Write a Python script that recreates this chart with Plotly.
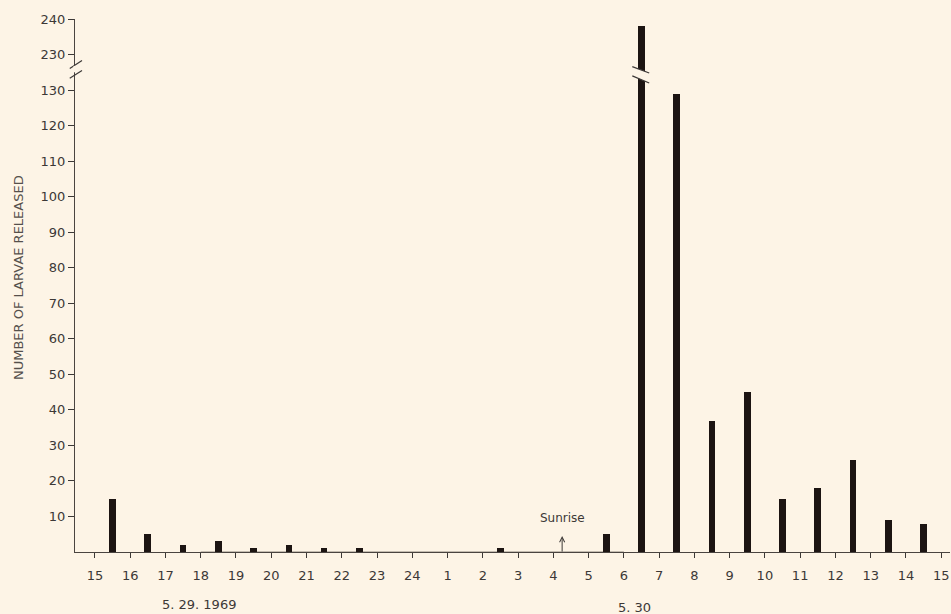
import plotly.graph_objects as go

# ---- data ----
hour_labels = ["15", "16", "17", "18", "19", "20", "21", "22", "23", "24",
               "1", "2", "3", "4", "5", "6", "7", "8", "9", "10",
               "11", "12", "13", "14", "15"]
# larvae released in each hourly interval (interval i spans hour_labels[i] -> hour_labels[i+1])
larvae = [15, 5, 2, 3, 1, 2, 1, 1, 0, 0, 0, 1, 0, 0, 5,
          238, 129, 37, 45, 15, 18, 26, 9, 8]
y_tick_values = [10, 20, 30, 40, 50, 60, 70, 80, 90, 100, 110, 120, 130, 230, 240]
zero_line_span = ["18", "6"]       # hours over which zero release was recorded as a line
sunrise_hour_index = 13.25          # about 4:15
date_labels = [("5. 29. 1969", 2.95, -0.098), ("5. 30", 15.3, -0.104)]

# ---- axis break: values above BREAK_LO are shifted down ----
BREAK_LO, BREAK_HI = 135, 225
SHIFT = 90
def disp(v):
    return v if v <= BREAK_LO else v - SHIFT

BG = "#fdf4e6"
INK = "#1c1412"
TXT = "#3c3836"
FONT = "DejaVu Sans"

x_centers = [i + 0.5 for i in range(len(larvae))]
y_disp = [disp(v) for v in larvae]

fig = go.Figure()
fig.add_trace(go.Bar(x=x_centers, y=y_disp, width=0.19, marker_color=INK,
                     marker_line_width=0, customdata=larvae,
                     hovertemplate="%{customdata}<extra></extra>"))

# thick zero-record line
i0 = hour_labels.index(zero_line_span[0])
i1 = hour_labels.index(zero_line_span[1])
fig.add_trace(go.Scatter(x=[i0, i1], y=[-0.35, -0.35], mode="lines",
                         line=dict(color=INK, width=3), hoverinfo="skip",
                         cliponaxis=False))

shapes = []
# break marks on the y axis
for yc in (137.2, 134.4):
    shapes.append(dict(type="line", xref="paper", yref="y",
                       x0=-0.006, x1=0.008, y0=yc - 1.1, y1=yc + 1.1,
                       line=dict(color=TXT, width=1.2), layer="above"))
shapes.append(dict(type="line", xref="paper", yref="y", x0=0, x1=0,
                   y0=135.0, y1=136.8, line=dict(color=BG, width=3), layer="above"))

# break marks across the tallest bar
bi = max(range(len(larvae)), key=lambda k: larvae[k])
bx = x_centers[bi]
xl, xr = bx - 0.26, bx + 0.22
shapes.append(dict(type="path", xref="x", yref="y",
                   path=f"M {xl},136.6 L {xr},134.8 L {xr},132.0 L {xl},134.0 Z",
                   fillcolor=BG, line=dict(width=0), layer="above"))
for (ya, yb) in ((136.6, 134.8), (134.0, 132.0)):
    shapes.append(dict(type="line", xref="x", yref="y", x0=xl, x1=xr, y0=ya, y1=yb,
                       line=dict(color=TXT, width=1.2), layer="above"))

annotations = [
    dict(text="NUMBER OF LARVAE RELEASED", xref="paper", yref="paper",
         x=-0.076, y=0.514, textangle=-90, showarrow=False,
         font=dict(family=FONT, size=13, color="#55504c")),
    dict(text="Sunrise", xref="x", yref="y", x=sunrise_hour_index, y=9.7,
         showarrow=False, font=dict(family=FONT, size=12, color=TXT)),
    dict(text="", xref="x", yref="y", x=sunrise_hour_index, y=4.5,
         ax=sunrise_hour_index, ay=-0.3, axref="x", ayref="y",
         showarrow=True, arrowhead=5, arrowsize=1.0, arrowwidth=1,
         arrowcolor=TXT),
]
for txt, xv, yv in date_labels:
    annotations.append(dict(text=txt, xref="x", yref="paper", x=xv, y=yv,
                            yanchor="middle", showarrow=False,
                            font=dict(family=FONT, size=13, color=TXT)))

tick_pos = [disp(v) for v in y_tick_values]

fig.update_layout(
    width=951, height=614,
    margin=dict(l=75, r=1, t=19, b=62, autoexpand=False),
    paper_bgcolor=BG, plot_bgcolor=BG,
    showlegend=False, bargap=0,
    shapes=shapes, annotations=annotations,
    font=dict(family=FONT, size=12, color=TXT),
    xaxis=dict(range=[-0.565, 24.25], tickmode="array",
               tickvals=list(range(len(hour_labels))), ticktext=hour_labels,
               ticks="outside", ticklen=5, tickcolor=TXT, tickwidth=1,
               ticklabelstandoff=6, ticklabeloverflow="allow", automargin=False,
               showline=True, linecolor="#4a4440", linewidth=1,
               showgrid=False, zeroline=False,
               tickfont=dict(family=FONT, size=13, color=TXT)),
    yaxis=dict(range=[0, 150], tickmode="array", tickvals=tick_pos,
               ticktext=[str(v) for v in y_tick_values],
               ticks="outside", ticklen=6, tickcolor=TXT, tickwidth=1,
               automargin=False,
               showline=True, linecolor="#4a4440", linewidth=1,
               showgrid=False, zeroline=False,
               tickfont=dict(family=FONT, size=13, color=TXT)),
)

fig.write_html("out.html")
